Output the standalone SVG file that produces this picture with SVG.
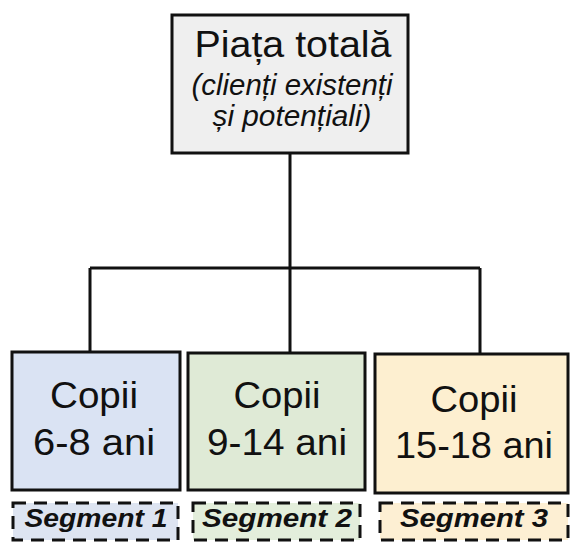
<svg xmlns="http://www.w3.org/2000/svg" width="572" height="544" viewBox="0 0 572 544">
  <style>
    .box { stroke: #111; stroke-width: 3; }
    .seg { stroke: #111; stroke-width: 3; stroke-dasharray: 13 8; }
    .wire { fill: none; stroke: #111; stroke-width: 3; }
    .t { font-family: "Liberation Sans", Arial, sans-serif; fill: #111; text-anchor: middle; }
    .big { font-size: 36px; }
    .sub { font-size: 30px; font-style: italic; }
    .lbl { font-size: 26px; font-style: italic; font-weight: bold; }
  </style>
  <rect width="572" height="544" fill="#ffffff"/>

  <!-- connectors -->
  <g id="connectors">
    <path class="wire" d="M290 153 V268 M90 268 H480 M90 268 V352 M290 268 V352 M480 268 V353"/>
  </g>

  <!-- root node -->
  <g id="total">
    <rect class="box" x="172" y="15" width="236" height="138" fill="#efefef"/>
    <text class="t big" x="293" y="57" textLength="197" lengthAdjust="spacingAndGlyphs">Piața totală</text>
    <text class="t sub" x="292" y="95" textLength="201" lengthAdjust="spacingAndGlyphs">(clienți existenți</text>
    <text class="t sub" x="292" y="126" textLength="159" lengthAdjust="spacingAndGlyphs">și potențiali)</text>
  </g>

  <!-- age groups -->
  <g id="group1">
    <rect class="box" x="12" y="352" width="168" height="138" fill="#dae3f3"/>
    <text class="t big" x="94" y="408" textLength="88" lengthAdjust="spacingAndGlyphs">Copii</text>
    <text class="t big" x="94" y="455" textLength="122" lengthAdjust="spacingAndGlyphs">6-8 ani</text>
  </g>
  <g id="group2">
    <rect class="box" x="188" y="353" width="177" height="137" fill="#dfead6"/>
    <text class="t big" x="277" y="408" textLength="87" lengthAdjust="spacingAndGlyphs">Copii</text>
    <text class="t big" x="277" y="455" textLength="140" lengthAdjust="spacingAndGlyphs">9-14 ani</text>
  </g>
  <g id="group3">
    <rect class="box" x="375" y="354" width="193" height="139" fill="#fdefd0"/>
    <text class="t big" x="474" y="412" textLength="87" lengthAdjust="spacingAndGlyphs">Copii</text>
    <text class="t big" x="474" y="458" textLength="158" lengthAdjust="spacingAndGlyphs">15-18 ani</text>
  </g>

  <!-- segment tags -->
  <g id="segment1">
    <rect class="seg" x="13" y="503" width="165" height="37" fill="#dde4f1"/>
    <text class="t lbl" x="96" y="527" textLength="143" lengthAdjust="spacingAndGlyphs">Segment 1</text>
  </g>
  <g id="segment2">
    <rect class="seg" x="193" y="503" width="167" height="37" fill="#e3eedb"/>
    <text class="t lbl" x="277" y="527" textLength="150" lengthAdjust="spacingAndGlyphs">Segment 2</text>
  </g>
  <g id="segment3">
    <rect class="seg" x="380" y="503" width="188" height="37" fill="#fdefd3"/>
    <text class="t lbl" x="474" y="527" textLength="148" lengthAdjust="spacingAndGlyphs">Segment 3</text>
  </g>
</svg>
